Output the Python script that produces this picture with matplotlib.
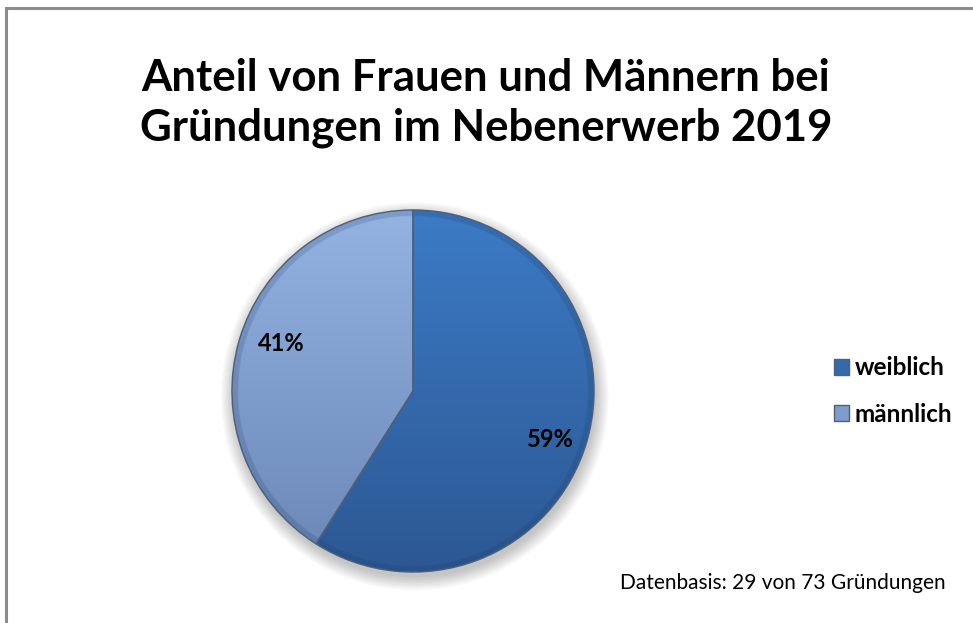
import numpy as np
import matplotlib.pyplot as plt
from matplotlib.colors import LinearSegmentedColormap
from matplotlib.patches import Rectangle, Circle

# Anteile in Prozent
labels = ["weiblich", "männlich"]
shares = [59, 41]
# Verlauf der Segmentfarben (oben -> unten)
top_colors = ["#3c7bc6", "#93b3e2"]
bottom_colors = ["#2c5893", "#6a86b6"]
base_colors = ["#3569ab", "#7f9ccc"]

title = "Anteil von Frauen und Männern bei\nGründungen im Nebenerwerb 2019"
note = "Datenbasis: 29 von 73 Gründungen"

plt.rcParams["font.family"] = ["Lato", "DejaVu Sans"]

fig = plt.figure(figsize=(9.73, 6.23), dpi=100)

# chart frame
fig.patches.append(Rectangle((6 / 973, -0.01), 1.0, (623 - 8) / 623 + 0.01,
                             transform=fig.transFigure, fill=False,
                             edgecolor="#8c8c8c", linewidth=2.2))

fig.text(0.4995, 1 - 103 / 623, title, ha="center", va="center", fontsize=31.5,
         fontweight="bold", linespacing=1.3)

ax = fig.add_axes([232 / 973, (623 - 572) / 623, 362 / 973, 362 / 623])

# soft shadow beneath the pie
for k in range(10):
    r = 1.0 + 0.008 * k
    ax.add_patch(Circle((0.01, -0.03), r, facecolor="#000000", alpha=0.025,
                        edgecolor="none", zorder=0, clip_on=False))

wedges, texts, autotexts = ax.pie(
    shares, colors=base_colors, startangle=90, counterclock=False,
    autopct="%.0f%%", pctdistance=0.79, radius=1.0,
    wedgeprops=dict(edgecolor="#4e5f78", linewidth=1.0),
    textprops=dict(fontsize=17, fontweight="bold", color="black"))
ax.set_xlim(-1, 1)
ax.set_ylim(-1, 1)

# nudge the percentage labels a little (best-fit placement)
nudges = [(0.0, -0.05), (0.03, 0.04)]
for t, (dx, dy) in zip(autotexts, nudges):
    x, y = t.get_position()
    t.set_position((x + dx, y + dy))

grad = np.linspace(0, 1, 256).reshape(-1, 1)
for w, c0, c1 in zip(wedges, top_colors, bottom_colors):
    cmap = LinearSegmentedColormap.from_list("g", [c0, c1])
    im = ax.imshow(grad, cmap=cmap, extent=[-1, 1, -1, 1], aspect="auto",
                   zorder=1.5, origin="upper")
    im.set_clip_path(w)

# darker bevel rim
for k in range(6):
    ax.add_patch(Circle((0, 0), 1.0 - 0.006 * k, fill=False,
                        edgecolor="#1f3a63", linewidth=1.2, alpha=0.12,
                        zorder=2, clip_on=False))
for w in wedges:
    w.set_zorder(2.5)
    w.set_facecolor("none")
    w.set_clip_on(False)
for t in autotexts:
    t.set_zorder(3)

ax.set_aspect("equal")
ax.axis("off")

handles = [Rectangle((0, 0), 1, 1, facecolor=c, edgecolor="#4e5f78")
           for c in base_colors]
fig.legend(handles, labels, loc="center left",
           bbox_to_anchor=(834 / 973, 1 - 391 / 623),
           frameon=False, handlelength=0.62, handleheight=0.62,
           handletextpad=0.22, labelspacing=0.95, borderpad=0,
           borderaxespad=0, prop=dict(size=17.5, weight="bold"))

fig.text(946 / 973, 1 - 583 / 623, note, ha="right", va="center", fontsize=15)

fig.savefig("out.png", dpi=100)
